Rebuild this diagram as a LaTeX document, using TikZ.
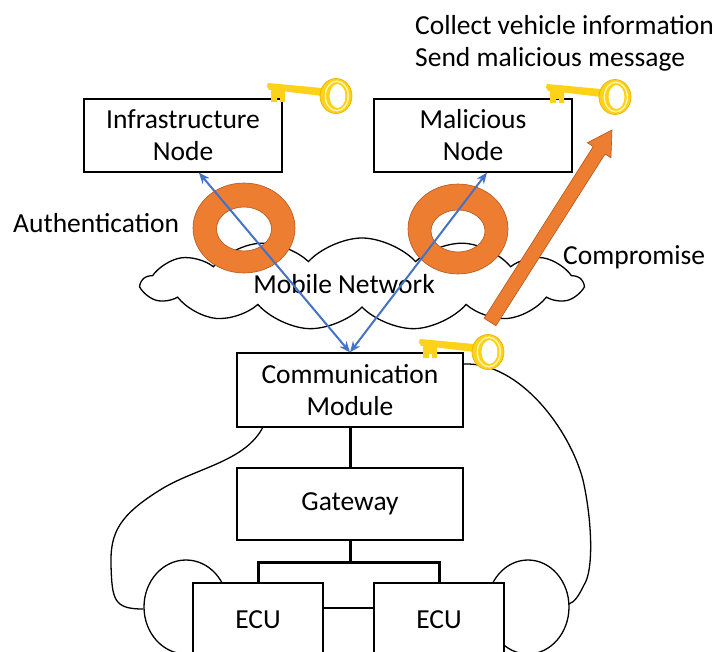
\documentclass[tikz,border=0pt]{standalone}
\usepackage{fontspec}
\setmainfont{Carlito}
\usetikzlibrary{shapes.symbols,calc,arrows.meta}
\definecolor{netblue}{HTML}{4472C4}
\definecolor{attackorange}{HTML}{ED7D31}
\definecolor{orangeedge}{HTML}{B5561C}
\definecolor{keygold}{HTML}{FFD21A}
\definecolor{keyshade}{HTML}{E3B400}
\definecolor{keylight}{HTML}{FFF3B0}

\tikzset{
  goldkey/.pic={
    % shaft and bit
    \fill[keygold] (-68,-13) .. controls (-69.5,-10) .. (-67,-6) -- (-65,-6) -- (-65,6)
      -- (-59,6) -- (-59,2) -- (-56,2) -- (-56,6) -- (-51,6) -- (-51,-4.5)
      -- (-14,0) -- (-14,-8) -- cycle;
    % bow
    \fill[keygold, even odd rule] (0,0) ellipse (16 and 17.5) (1.5,0) ellipse (8 and 12);
    \draw[keylight, line width=1.4pt] (0.8,0) ellipse (11.5 and 14.8);
    \draw[keyshade, line width=0.7pt] (0,0) ellipse (16 and 17.5);
  }
}

\begin{document}
\begin{tikzpicture}[x=1pt,y=-1pt,
  every node/.style={font=\fontsize{27.5}{32}\selectfont},
  label/.style={inner sep=0pt},
  unitbox/.style={draw, line width=1.3pt, fill=white, align=center, inner sep=0pt,
                  minimum height=73pt},
  wide/.style={unitbox, minimum width=198pt},
  module/.style={unitbox, minimum width=226pt},
  ecubox/.style={unitbox, minimum width=130pt, minimum height=74pt},
  body/.style={line width=1.3pt},
  bus/.style={line width=3pt},
  link/.style={netblue, line width=2pt, {Stealth[length=11pt,width=9pt]}-{Stealth[length=11pt,width=9pt]}},
  torus/.style={fill=attackorange, draw=orangeedge, line width=0.6pt, even odd rule},
]
\useasboundingbox (0,0) rectangle (723,652);
\clip (0,0) rectangle (723,652);

% vehicle silhouette
\draw[body] (263,427) .. controls (245,462) and (195,468) .. (160,490)
  .. controls (120,515) and (110,532) .. (111,565)
  .. controls (112,600) and (114,609) .. (143,609);
\draw[body] (464,364) .. controls (520,362) and (570,430) .. (583,480)
  .. controls (592,520) and (594,570) .. (584,585)
  .. controls (579,595) and (575,602) .. (569,604);
\draw[body] (186,607) ellipse (42 and 47);
\draw[body] (528,607) ellipse (41 and 47);

% mobile network cloud
\node[cloud, draw, line width=1.3pt, cloud puffs=13, cloud puff arc=95, aspect=4.8,
      minimum width=440pt, minimum height=92pt, inner sep=0pt] (net) at (362,284) {};
\node[label, anchor=base] (netlabel) at (344,294) {Mobile Network};

% key rings on the links
\fill[torus] (244,228) ellipse (51 and 45) (244,229) ellipse (27.5 and 22);
\fill[torus] (458,229) ellipse (50 and 45) (458,231) ellipse (27 and 21);

% nodes
\node[wide] (infra) at (183,135.5) {Infrastructure\\Node};
\node[wide] (mal) at (473,135.5) {Malicious\\Node};
\node[module, minimum height=74pt] (comm) at (350,390) {Communication\\Module};
\node[module, minimum height=72pt] (gw) at (350,504) {Gateway};
\node[ecubox] (ecu1) at (258,620) {ECU};
\node[ecubox] (ecu2) at (439,620) {ECU};

% authenticated links
\draw[link] ($(infra.south west)!0.58!(infra.south east)$) -- (comm.north);
\draw[link] ($(mal.south west)!0.57!(mal.south east)$) -- (comm.north);

% in-vehicle bus
\draw[bus] (comm.south) -- (gw.north);
\draw[bus] (gw.south) -- ++(0,22) coordinate (split) -| (ecu1.north);
\draw[bus] (split) -| (ecu2.north);
\draw[line width=1.3pt] ($(ecu1.east)+(0,-12)$) -- ($(ecu2.west)+(0,-12)$);

% labels
\node[label, anchor=base west] (auth) at (13,233) {Authentication};
\node[label, anchor=base west] (comp) at (563,265) {Compromise};
\node[label, anchor=base west] (collect) at (415,35) {Collect vehicle information};
\node[label, anchor=base west] (send) at (415,67) {Send malicious message};

% compromise block arrow (shaft half-width 7, head half-width 14, head length 24)
\coordinate (cmpS) at (490,322);
\coordinate (cmpT) at (612,130);
\coordinate (cmpH) at (599.13,150.26);
\fill[attackorange, draw=orangeedge, line width=0.6pt]
  ($(cmpS)+(5.91,3.75)$) -- ($(cmpH)+(5.91,3.75)$) -- ($(cmpH)+(11.82,7.51)$)
  -- (cmpT) -- ($(cmpH)+(-11.82,-7.51)$) -- ($(cmpH)+(-5.91,-3.75)$)
  -- ($(cmpS)+(-5.91,-3.75)$) -- cycle;

% keys
\pic at (336,96) {goldkey};
\pic at (615,97) {goldkey};
\pic at (488,352) {goldkey};
\end{tikzpicture}
\end{document}
